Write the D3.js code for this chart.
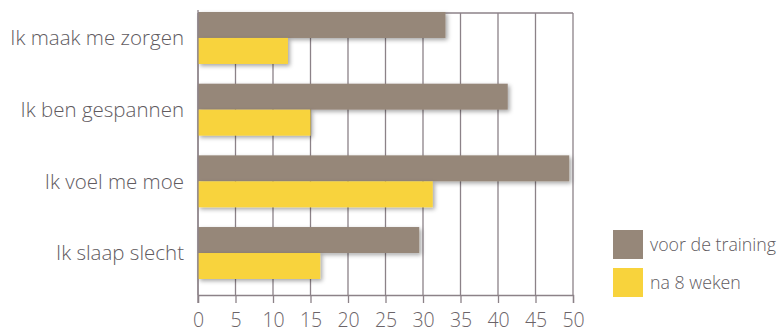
<!DOCTYPE html>
<html><head><meta charset="utf-8">
<script src="https://cdn.jsdelivr.net/npm/d3@7"></script>
<style>
html,body{margin:0;padding:0;background:#fff;}
svg{display:block;}
</style></head>
<body>
<svg id="chart" width="782" height="334"></svg>
<script>
const categories = ["Ik maak me zorgen","Ik ben gespannen","Ik voel me moe","Ik slaap slecht"];
const seriesNames = ["voor de training","na 8 weken"];
const voor = [33, 41.3, 49.5, 29.5];
const na = [12, 15, 31.3, 16.3];
const ticks = [0,5,10,15,20,25,30,35,40,45,50];
const colors = ["#968779","#f8d33c"];

(function(){
const svg = d3.select("#chart");
const pL = 198, pR = 573, pT = 12, pB = 295;
const x = d3.scaleLinear().domain([0,50]).range([pL,pR]);
const y = d3.scaleBand().domain(categories).range([pT, 279]).paddingInner(0.275).paddingOuter(0);
const ys = d3.scaleBand().domain(seriesNames).range([0, y.bandwidth()]);

const defs = svg.append("defs");
const f = defs.append("filter").attr("id","sh").attr("x","-5%").attr("y","-30%").attr("width","115%").attr("height","170%");
f.append("feDropShadow").attr("dx",2).attr("dy",2).attr("stdDeviation",2).attr("flood-color","#000").attr("flood-opacity",0.35);

const gridColor = "#8c8288";
svg.append("g").selectAll("line").data(ticks).join("line")
  .attr("x1",d=>x(d)).attr("x2",d=>x(d)).attr("y1",pT+1).attr("y2",pB)
  .attr("stroke",gridColor).attr("stroke-width",1.3);
svg.append("line").attr("x1",pL).attr("x2",pR).attr("y1",pT+1).attr("y2",pT+1)
  .attr("stroke",gridColor).attr("stroke-width",1.3);

const data = [];
categories.forEach((c,i)=>{
  data.push({c, s:seriesNames[0], v:voor[i], col:colors[0]});
  data.push({c, s:seriesNames[1], v:na[i], col:colors[1]});
});
svg.append("g").selectAll("rect").data(data).join("rect")
  .attr("x",x(0)).attr("y",d=>y(d.c)+ys(d.s))
  .attr("width",d=>x(d.v)-x(0)).attr("height",ys.bandwidth())
  .attr("fill",d=>d.col).attr("filter","url(#sh)");

const ax = svg.append("g").attr("transform",`translate(0,${pB})`)
  .call(d3.axisBottom(x).tickValues(ticks).tickSize(8).tickPadding(10).tickFormat(d3.format("d")));
ax.select(".domain").attr("stroke",gridColor).attr("stroke-width",1.3);
ax.selectAll(".tick line").attr("stroke",gridColor).attr("stroke-width",1.3);
ax.selectAll("text").attr("fill","#6b6468").attr("font-family","'Open Sans', sans-serif")
  .attr("font-weight",300).attr("font-size",19.5);
svg.append("line").attr("x1",pL).attr("x2",pL).attr("y1",pT-2).attr("y2",pB+8)
  .attr("stroke",gridColor).attr("stroke-width",1.3);

svg.append("g").selectAll("text").data(categories).join("text")
  .attr("x",184).attr("y",d=>y(d)+y.bandwidth()/2).attr("dy","0.35em")
  .attr("text-anchor","end").attr("fill","#615b5f")
  .attr("font-family","'Open Sans', sans-serif").attr("font-weight",300).attr("font-size",20.5)
  .text(d=>d);

const lg = svg.append("g").selectAll("g").data(seriesNames).join("g")
  .attr("transform",(d,i)=>`translate(613,${230+i*38})`);
lg.append("rect").attr("width",30).attr("height",29).attr("fill",(d,i)=>colors[i]);
lg.append("text").attr("x",37).attr("y",15).attr("dy","0.35em")
  .attr("fill","#615b5f").attr("font-family","'Open Sans', sans-serif").attr("font-weight",300).attr("font-size",17.8)
  .text(d=>d);
})();
</script>
</body></html>
